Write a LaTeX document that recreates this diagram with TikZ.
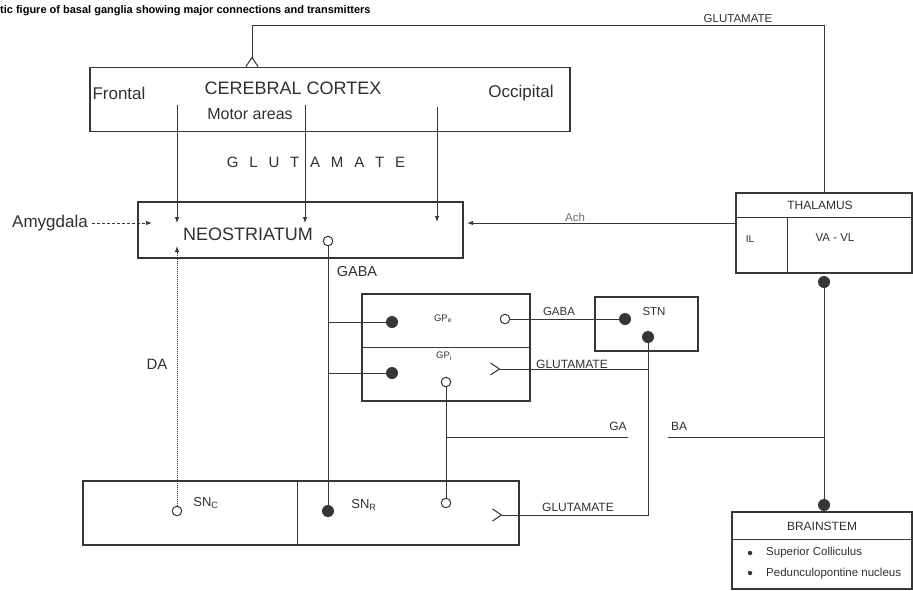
\documentclass[tikz,border=0pt]{standalone}
\usepackage{fontspec}
\setmainfont{Liberation Sans}
\usepackage{xcolor}
\usepackage{tikz}
\usetikzlibrary{arrows.meta}
\definecolor{ink}{HTML}{303030}
\definecolor{wire}{HTML}{363636}
\newcommand{\gap}{\hspace{10.8pt}}
\newcommand{\fs}[1]{\fontsize{#1}{#1}\selectfont}

\begin{document}
\begin{tikzpicture}[
  x=1pt,y=-1pt,
  box/.style={draw=wire,line width=1.1pt,inner sep=0pt},
  lbl/.style={text=ink,inner sep=0pt,font=\fs{11.5}},
  big/.style={text=ink,inner sep=0pt,font=\fs{17}},
  fdot/.style={circle,fill=wire,inner sep=0pt,minimum size=12pt},
  odot/.style={circle,draw=wire,fill=white,line width=1pt,inner sep=0pt,minimum size=9.5pt},
  bul/.style={circle,fill=wire,inner sep=0pt,minimum size=4.5pt},
  link/.style={draw=wire,line width=1pt},
  arr/.style={link,-{Latex[length=6pt,width=4.5pt]}},
  glu/.style={link,-{Straight Barb[reversed,length=9pt,width=12pt]}},
  amy/.style={arr,densely dashed},
  dopa/.style={arr,densely dotted}
]
\useasboundingbox (0,0) rectangle (913,590);
\node[anchor=base west,inner sep=0pt,text=black,font=\fs{11}\bfseries] (title) at (0,13) {tic figure of basal ganglia showing major connections and transmitters};

% boxes
\node[box,minimum width=480pt,minimum height=64pt] (ctx) at (330,99.5) {};
\node[box,minimum width=325pt,minimum height=56pt] (neo) at (300.5,230) {};
\node[box,minimum width=168pt,minimum height=107pt] (gp) at (446,347.5) {};
\node[box,minimum width=103pt,minimum height=54pt] (stn) at (646.5,324) {};
\node[box,minimum width=436pt,minimum height=64pt] (sn) at (301,513) {};
\node[box,minimum width=176pt,minimum height=80pt] (thal) at (824,233) {};
\node[box,minimum width=180pt,minimum height=77pt] (bstem) at (822,550.5) {};
\draw[link] (gp.west) -- (gp.east);
\draw[link] ([xshift=-4pt]sn.north) -- ([xshift=-4pt]sn.south);
\draw[link] ([yshift=-25pt]thal.north west) -- ([yshift=-25pt]thal.north east);
\draw[link] ([xshift=52pt,yshift=-25pt]thal.north west) -- ([xshift=52pt]thal.south west);
\draw[link] ([yshift=-28pt]bstem.north west) -- ([yshift=-28pt]bstem.north east);

% labels
\node[big] (frontal) at (119,93) {Frontal};
\node[big,font=\fs{18}] (ctxlbl) at (293,88) {CEREBRAL CORTEX};
\node[big,font=\fs{16}] (motor) at (250,114) {Motor areas};
\node[big] (occ) at (521,93) {Occipital};
\node[big,font=\fs{15}] (glu) at (316,162) {G\gap L\gap U\gap T\gap A\gap M\gap A\gap T\gap E};
\node[big,font=\fs{18}] (neolbl) at (248,234) {NEOSTRIATUM};
\node[big] (amyg) at (50,223) {Amygdala};
\node[big,font=\fs{14.5}] (gaba1) at (357,272) {GABA};
\node[big,font=\fs{15}] (da) at (157,364) {DA};
\node[lbl,font=\fs{9.5}] (gpelbl) at (443,319) {GP\textsubscript{e}};
\node[lbl,font=\fs{9.5}] (gpilbl) at (444,356) {GP\textsubscript{i}};
\node[lbl] (gaba2) at (559,312) {GABA};
\node[lbl] (stnlbl) at (654,312) {STN};
\node[lbl,font=\fs{12}] (glu2) at (572,364) {GLUTAMATE};
\node[lbl,font=\fs{12}] (ga) at (618,426) {GA};
\node[lbl,font=\fs{12}] (ba) at (679,426) {BA};
\node[lbl,font=\fs{12}] (glu3) at (578,507) {GLUTAMATE};
\node[lbl,font=\fs{13}] (snclbl) at (206,503) {SN\textsubscript{C}};
\node[lbl,font=\fs{13}] (snrlbl) at (364,505) {SN\textsubscript{R}};
\node[lbl,font=\fs{12}] (thallbl) at (820,205) {THALAMUS};
\node[lbl,font=\fs{10}] (il) at (750,239) {IL};
\node[lbl] (vavl) at (835,238) {VA - VL};
\node[lbl,font=\fs{12}] (bstemlbl) at (822,526) {BRAINSTEM};
\node[lbl,anchor=west] (sc) at (766,553) {Superior Colliculus};
\node[lbl,anchor=west] (ppn) at (766,574) {Pedunculopontine nucleus};
\node[bul] (scbul) at (750,553) {};
\node[bul] (ppnbul) at (750,573) {};
\node[lbl] (glu4) at (738,19) {GLUTAMATE};
\node[lbl,text=ink!70] (ach) at (575,217) {Ach};

% synapse ends
\node[odot] (neoout) at (328,241) {};
\node[fdot] (gpein) at (392,322) {};
\node[fdot] (gpiin) at (392,373) {};
\node[odot] (gpeout) at (505,319) {};
\node[fdot] (stnin) at (625,319) {};
\node[fdot] (stnout) at (648,337) {};
\node[odot] (gpiout) at (446,382) {};
\node[odot] (sncout) at (177,511) {};
\node[fdot] (snrin) at (328,511) {};
\node[odot] (snrout) at (446,503) {};
\node[fdot] (thalout) at (824,282) {};
\node[fdot] (bstemin) at (824,505) {};

\coordinate (frA) at (177,105);
\coordinate (frB) at (177,223);
\coordinate (moA) at (305,105);
\coordinate (moB) at (305,223);
\coordinate (ocA) at (437,107);
\coordinate (ocB) at (437,222);
\coordinate (amyB) at (152,223);
\coordinate (daB) at (177,246);
\coordinate (thalB) at (467,223);
\coordinate (topknee) at (252,25);
\coordinate (ctxglu) at (252,67);
\coordinate (gpiglu) at (490,369);
\coordinate (snglu) at (492,515);
\coordinate (gaend) at (628,437);
\coordinate (bastart) at (668,437);

% connections
\draw[arr] (frA) -- (frB);
\draw[arr] (moA) -- (moB);
\draw[arr] (ocA) -- (ocB);
\draw[amy,shorten <=4pt] (amyg) -- (amyB);
\draw[dopa] (sncout) -- (daB);
\draw[arr] (thal.west |- thalB) -- (thalB);
\draw[glu] (thal.north) |- (topknee) -- (ctxglu);
\draw[link] (neoout) -- (snrin);
\draw[link] (gpein) -- (gpein -| neoout);
\draw[link] (gpiin) -- (gpiin -| neoout);
\draw[link] (gpeout) -- (stnin);
\draw[glu] (stnout) |- (snglu);
\draw[glu] (stnout |- gpiglu) -- (gpiglu);
\draw[link] (gpiout) -- (snrout);
\draw[link] (gpiout |- gaend) -- (gaend);
\draw[link] (bastart) -- (bastart -| thalout);
\draw[link] (thalout) -- (bstemin);
\end{tikzpicture}
\end{document}
